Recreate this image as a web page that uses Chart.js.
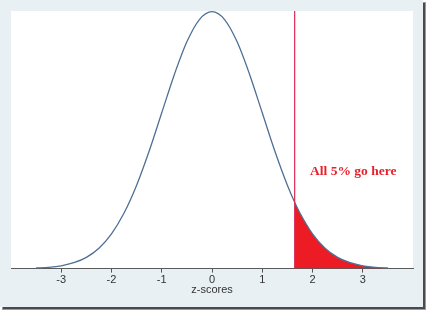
<!DOCTYPE html>
<html lang="en">
<head>
    <meta charset="UTF-8">
    <title>z-scores</title>
    <script src="https://cdn.jsdelivr.net/npm/chart.js"></script>
    <style>
        body { margin: 0; background: #ffffff; }
        canvas { display: block; }
    </style>
</head>
<body>
    <canvas id="zChart" width="428" height="313"></canvas>

    <script>
        // values
        const zValues = [-3.5, -3.25, -3, -2.75, -2.5, -2.25, -2, -1.75, -1.5, -1.25, -1, -0.75, -0.5, -0.25, 0,
                         0.25, 0.5, 0.75, 1, 1.25, 1.5, 1.645, 1.75, 2, 2.25, 2.5, 2.75, 3, 3.25, 3.5];
        const density = [0.0009, 0.0020, 0.0044, 0.0091, 0.0175, 0.0317, 0.0540, 0.0863, 0.1295, 0.1826, 0.2420, 0.3011, 0.3521, 0.3867, 0.3989,
                         0.3867, 0.3521, 0.3011, 0.2420, 0.1826, 0.1295, 0.1031, 0.0863, 0.0540, 0.0317, 0.0175, 0.0091, 0.0044, 0.0020, 0.0009];
        const tailZ = [1.645, 1.75, 2, 2.25, 2.5, 2.75, 3, 3.25, 3.5];
        const tailDensity = [0.1031, 0.0863, 0.0540, 0.0317, 0.0175, 0.0091, 0.0044, 0.0020, 0.0009];
        const cutoff = 1.645;
        const tickLabels = [-3, -2, -1, 0, 1, 2, 3];
        const noteText = 'All 5% go here';

        const toPoints = (xs, ys) => xs.map((x, i) => ({ x: x, y: ys[i] }));

        // frame, shadow and white plot background
        const framePlugin = {
            id: 'frame',
            beforeDraw(chart) {
                const ctx = chart.ctx;
                const a = chart.chartArea;
                ctx.save();
                ctx.fillStyle = '#ffffff';
                ctx.fillRect(0, 0, chart.width, chart.height);
                // drop shadow right and bottom
                ctx.fillStyle = '#9a9a9a';
                ctx.fillRect(423, 2, 3, 308);
                ctx.fillRect(2, 307, 424, 3);
                ctx.fillStyle = '#4a4a4a';
                ctx.fillRect(423, 3, 2, 306);
                ctx.fillRect(3, 307, 421, 2);
                ctx.fillStyle = '#e8f0f3';
                ctx.fillRect(0, 0, 423, 307);
                ctx.fillStyle = '#ffffff';
                ctx.fillRect(a.left, a.top, a.right - a.left, a.bottom - a.top);
                ctx.restore();
            },
            afterDatasetsDraw(chart) {
                const ctx = chart.ctx;
                const xs = chart.scales.x;
                const ys = chart.scales.y;
                ctx.save();
                ctx.font = 'bold 13.5px "Liberation Serif", "Times New Roman", serif';
                ctx.fillStyle = '#e8202c';
                ctx.textAlign = 'center';
                ctx.textBaseline = 'middle';
                ctx.fillText(noteText, xs.getPixelForValue(2.81), ys.getPixelForValue(0.150));
                ctx.restore();
            }
        };

        new Chart(document.getElementById('zChart').getContext('2d'), {
            type: 'line',
            data: {
                datasets: [
                    {
                        data: toPoints(tailZ, tailDensity),
                        borderWidth: 0,
                        backgroundColor: '#ed1c24',
                        fill: 'origin',
                        pointRadius: 0,
                        cubicInterpolationMode: 'monotone',
                        order: 3
                    },
                    {
                        data: toPoints(zValues, density),
                        borderColor: '#4f6f95',
                        borderWidth: 1.3,
                        fill: false,
                        pointRadius: 0,
                        cubicInterpolationMode: 'monotone',
                        order: 2
                    },
                    {
                        data: [{ x: cutoff, y: 0 }, { x: cutoff, y: 0.4 }],
                        borderColor: '#dc2a55',
                        borderWidth: 1.2,
                        fill: false,
                        pointRadius: 0,
                        order: 1
                    }
                ]
            },
            options: {
                responsive: false,
                devicePixelRatio: 1,
                animation: false,
                layout: { padding: { left: 11, top: 11, right: 15, bottom: 16 } },
                plugins: {
                    legend: { display: false },
                    tooltip: { enabled: false }
                },
                scales: {
                    x: {
                        type: 'linear',
                        min: -4,
                        max: 4,
                        afterBuildTicks: scale => {
                            scale.ticks = tickLabels.map(v => ({ value: v }));
                        },
                        ticks: {
                            color: '#333333',
                            font: { family: '"Liberation Sans", Arial, sans-serif', size: 11 },
                            padding: 1,
                            maxRotation: 0
                        },
                        grid: {
                            drawOnChartArea: false,
                            drawTicks: true,
                            tickLength: 4,
                            color: '#555555'
                        },
                        border: { color: '#5a5a5a', width: 1 },
                        title: {
                            display: true,
                            text: 'z-scores',
                            color: '#333333',
                            font: { family: '"Liberation Sans", Arial, sans-serif', size: 11 },
                            padding: { top: -4, bottom: 0 }
                        }
                    },
                    y: {
                        display: false,
                        min: 0,
                        max: 0.4
                    }
                }
            },
            plugins: [framePlugin]
        });
    </script>
</body>
</html>
